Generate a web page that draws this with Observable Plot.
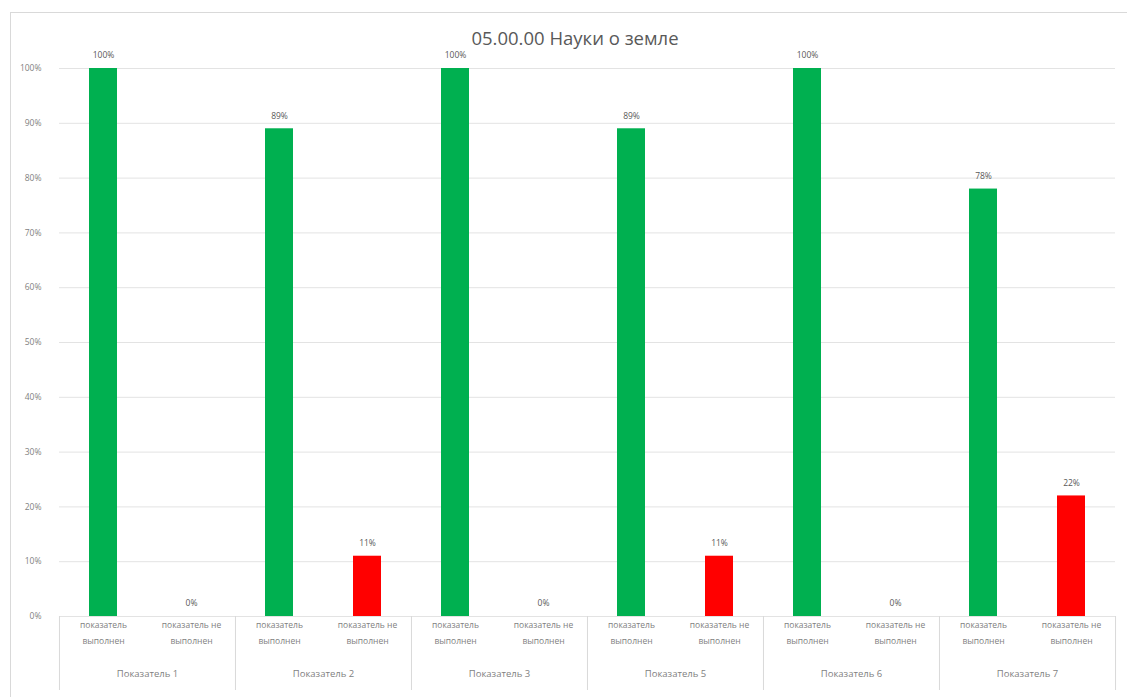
<!DOCTYPE html>
<html>
<head>
<meta charset="utf-8">
<script src="https://cdn.jsdelivr.net/npm/d3@7"></script>
<script src="https://cdn.jsdelivr.net/npm/@observablehq/plot@0.6"></script>
<style>
  html, body { margin: 0; padding: 0; background: #fff; }
  #wrap { position: relative; width: 1127px; height: 697px; overflow: hidden; font-family: "Open Sans", "Noto Sans", sans-serif; }
  #border { position: absolute; left: 10px; top: 12px; width: 1120px; height: 690px; border: 1px solid #d9d9d9; box-sizing: border-box; }
  #title { position: absolute; left: 0; width: 1150px; top: 26px; text-align: center; font-size: 18.5px; color: #595959; line-height: 24px; }
  #chart { position: absolute; left: 0; top: 0; }
</style>
</head>
<body>
<div id="wrap">
  <div id="border"></div>
  <div id="chart"></div>
  <div id="title">05.00.00 Науки о земле</div>
</div>
<script>
// ---- data ----
const groups = ["Показатель 1", "Показатель 2", "Показатель 3", "Показатель 5", "Показатель 6", "Показатель 7"];
const subs = ["показатель выполнен", "показатель не выполнен"];
const subLabels = ["показатель\nвыполнен", "показатель не\nвыполнен"];
const doneValues = [1.00, 0.89, 1.00, 0.89, 1.00, 0.78];
const notDoneValues = [0.00, 0.11, 0.00, 0.11, 0.00, 0.22];
const yTicks = [0, 0.1, 0.2, 0.3, 0.4, 0.5, 0.6, 0.7, 0.8, 0.9, 1.0];
const colors = ["#00b050", "#ff0000"];

// ---- layout ----
const W = 1127, H = 697;
const mL = 58, mR = 12, mT = 68, mB = 81;
const facetW = (W - mL - mR) / groups.length;
const bandW = facetW / subs.length;

const data = [];
groups.forEach((g, i) => {
  data.push({group: g, sub: subs[0], value: doneValues[i]});
  data.push({group: g, sub: subs[1], value: notDoneValues[i]});
});
const subRows = [];
groups.forEach(g => subs.forEach((s, j) => subRows.push({group: g, sub: s, label: subLabels[j]})));

const pct = d3.format(".0%");
const font = "'Open Sans', 'Noto Sans', sans-serif";

const chart = Plot.plot({
  width: W,
  height: H,
  marginLeft: mL,
  marginRight: mR,
  marginTop: mT,
  marginBottom: mB,
  style: {fontFamily: font, background: "transparent"},
  fx: {domain: groups, padding: 0, axis: null},
  x: {domain: subs, padding: 0, axis: null},
  y: {domain: [0, 1], axis: null},
  color: {domain: subs, range: colors},
  marks: [
    Plot.gridY(yTicks, {stroke: "#e3e3e3", strokeOpacity: 1, strokeWidth: 1}),
    Plot.axisY({ticks: yTicks, tickFormat: pct, tickSize: 0, tickPadding: 18, fontSize: 8.5, fill: "#7f7f7f", label: null}),
    Plot.barY(data, {fx: "group", x: "sub", y: "value", fill: "sub", insetLeft: 30, insetRight: 30}),
    Plot.text(data, {fx: "group", x: "sub", y: "value", text: d => pct(d.value), dy: -13, fontSize: 8.5, fill: "#595959"}),
    Plot.text(subRows, {fx: "group", x: "sub", text: "label", frameAnchor: "bottom", dy: 27, fontSize: 8.5, lineHeight: 1.85, fill: "#7f7f7f"}),
    Plot.text(groups, {fx: d => d, text: d => d, frameAnchor: "bottom", dy: 60, fontSize: 9.5, fill: "#7f7f7f"}),
    Plot.ruleX(groups, {fx: d => d, x: () => subs[0], dx: -bandW / 2, insetTop: H - mT - mB, insetBottom: -74, stroke: "#d9d9d9", strokeWidth: 1}),
    Plot.ruleX([groups[groups.length - 1]], {fx: d => d, x: () => subs[1], dx: bandW / 2, insetTop: H - mT - mB, insetBottom: -74, stroke: "#d9d9d9", strokeWidth: 1})
  ]
});
document.getElementById("chart").appendChild(chart);
</script>
</body>
</html>
